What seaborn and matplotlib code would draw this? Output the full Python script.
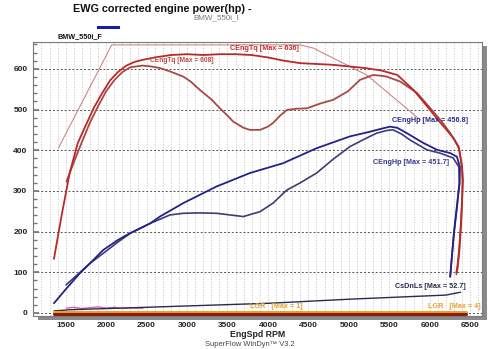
import numpy as np
import pandas as pd
import seaborn as sns
import matplotlib
matplotlib.use("Agg")
import matplotlib.pyplot as plt
from matplotlib.ticker import MultipleLocator
from matplotlib.patches import Rectangle

# ---- data ----
tq_a_rpm = [1355, 1450, 1550, 1650, 1750, 1850, 1950, 2050, 2150, 2250, 2350, 2450, 2600, 2800,
            3000, 3200, 3400, 3600, 3800, 4000, 4200, 4400, 4600, 4800, 5000, 5200, 5400, 5600,
            5800, 6000, 6100, 6200, 6300, 6360, 6400, 6410, 6400, 6385, 6365, 6345, 6330]
tq_a_val = [133, 240, 345, 418, 462, 505, 540, 572, 593, 608, 617, 622, 628, 634,
            636, 634, 636, 636, 634, 628, 620, 614, 612, 610, 606, 602, 596, 585,
            548, 500, 475, 452, 428, 405, 360, 327, 280, 220, 160, 120, 100]

tq_b_rpm = [1510, 1600, 1700, 1800, 1900, 2000, 2100, 2200, 2300, 2450, 2550, 2665, 2800, 2953,
            3050, 3160, 3300, 3407, 3500, 3572, 3700, 3778, 3902, 4000, 4063, 4150, 4235, 4350,
            4483, 4650, 4808, 4990, 5138, 5300, 5400, 5468, 5632, 5842, 6043, 6150, 6253, 6360,
            6398, 6405, 6400, 6385, 6365, 6345, 6330]
tq_b_val = [323, 370, 420, 468, 508, 545, 572, 592, 604, 608, 606, 602, 593, 581,
            568, 548, 525, 503, 485, 470, 455, 450, 450, 458, 467, 485, 499, 502,
            503, 515, 524, 545, 573, 585, 583, 581, 569, 541, 495, 470, 442, 408,
            359, 320, 270, 210, 150, 110, 95]

hp_a_rpm = [1355, 1500, 1677, 1800, 1965, 2150, 2295, 2542, 2665, 2953, 3366, 3778, 4186, 4602,
            5014, 5250, 5425, 5510, 5600, 5717, 5920, 6090, 6253, 6336, 6373, 6370, 6340, 6300,
            6270, 6253]
hp_a_val = [24, 58, 98, 122, 155, 180, 196, 220, 237, 270, 311, 344, 368, 405,
            434, 445, 454, 458, 455, 442, 418, 401, 393, 384, 359, 320, 270, 200,
            130, 89]

hp_b_rpm = [1504, 1650, 1800, 2000, 2150, 2300, 2542, 2789, 2953, 3150, 3366, 3531, 3696, 3902,
            4063, 4232, 4400, 4602, 4800, 5014, 5200, 5344, 5480, 5548, 5650, 5758, 5965, 6126,
            6290, 6360, 6365, 6340, 6300, 6270, 6253]
hp_b_val = [69, 95, 122, 152, 175, 196, 220, 241, 245, 246, 245, 241, 237, 249,
            270, 302, 320, 344, 377, 409, 428, 442, 449, 450, 440, 425, 401, 393,
            381, 359, 320, 265, 195, 130, 89]

ref_rpm = [1409, 2069, 4397, 4560, 5221, 5880]
ref_val = [405, 659, 659, 651, 585, 475]

cs_rpm = [1355, 1553, 2500, 4027, 5016, 6200, 6380]
cs_val = [5, 8, 14, 24, 34, 44, 51]

pk_rpm = [1510, 1600, 1700, 1800, 1900, 2000, 2100, 2200, 2300, 2400, 2455]
pk_val = [12, 14, 11, 13, 15, 12, 14, 11, 13, 12, 12]

lgr_rpm = [1355, 6450]
lgr_val = [2, 2]
base_rpm = [1355, 6450]
base_val = [-2, -2]

x_ticks = [1500, 2000, 2500, 3000, 3500, 4000, 4500, 5000, 5500, 6000, 6500]
y_ticks = [0, 100, 200, 300, 400, 500, 600]

# ---- figure ----
sns.set_theme(style="white")
plt.rcParams['font.family'] = ['Liberation Sans', 'DejaVu Sans']

W, H = 500, 349
fig = plt.figure(figsize=(W / 100, H / 100), dpi=100)
fig.patch.set_facecolor("white")

L, R, T, B = 33, 482, 42, 316
# drop shadow
fig.patches.append(Rectangle(((L + 5) / W, 1 - (B + 4) / H), (R - L) / W, (B - T) / H,
                             transform=fig.transFigure, facecolor="#8a8a8a",
                             edgecolor="none", zorder=0))
ax = fig.add_axes([L / W, 1 - B / H, (R - L) / W, (B - T) / H])
ax.set_facecolor("white")
ax.set_zorder(1)

ax.set_xlim(1096, 6646)
ax.set_ylim(-7.4, 666)

# grid
ax.xaxis.set_minor_locator(MultipleLocator(100))
ax.yaxis.set_minor_locator(MultipleLocator(20))
ax.set_xticks(x_ticks)
ax.set_yticks(y_ticks)
ax.grid(which="minor", axis="x", linestyle=(0, (1.2, 2.2)), color="#b0b0b0", linewidth=0.55)
ax.grid(which="major", axis="x", linestyle=(0, (1.2, 2.2)), color="#b0b0b0", linewidth=0.55)
ax.grid(which="major", axis="y", linestyle=(0, (2, 2)), color="#555555", linewidth=0.7)

# lines
sns.lineplot(x=ref_rpm, y=ref_val, sort=False, estimator=None, ax=ax, color="#c98a84", linewidth=0.8)
sns.lineplot(x=tq_b_rpm, y=tq_b_val, sort=False, estimator=None, ax=ax, color="#a84a44", linewidth=1.3)
sns.lineplot(x=tq_a_rpm, y=tq_a_val, sort=False, estimator=None, ax=ax, color="#b82a2a", linewidth=1.3)
sns.lineplot(x=hp_b_rpm, y=hp_b_val, sort=False, estimator=None, ax=ax, color="#3c3c7a", linewidth=1.2)
sns.lineplot(x=hp_a_rpm, y=hp_a_val, sort=False, estimator=None, ax=ax, color="#22228a", linewidth=1.3)
sns.lineplot(x=pk_rpm, y=pk_val, sort=False, estimator=None, ax=ax, color="#d060c0", linewidth=1.0)
sns.lineplot(x=cs_rpm, y=cs_val, sort=False, estimator=None, ax=ax, color="#2a2a50", linewidth=1.0)
sns.lineplot(x=lgr_rpm, y=lgr_val, sort=False, estimator=None, ax=ax, color="#f0a020", linewidth=2.2)
sns.lineplot(x=base_rpm, y=base_val, sort=False, estimator=None, ax=ax, color="#8a1a10", linewidth=2.2)

# curve labels
ax.text(3531, 649, "CEngTq [Max = 636]", color="#c0302a", fontsize=5.2, fontweight="bold", va="center")
ax.text(2542, 620, "CEngTq [Max = 608]", color="#c04a44", fontsize=4.8, fontweight="bold", va="center")
ax.text(5533, 472, "CEngHp [Max = 456.8]", color="#2a2a90", fontsize=5.2, fontweight="bold", va="center")
ax.text(5298, 369, "CEngHp [Max = 451.7]", color="#3a3a90", fontsize=5.2, fontweight="bold", va="center")
ax.text(5570, 64, "CsDnLs [Max = 52.7]", color="#2a2a50", fontsize=5.2, fontweight="bold", va="center")
ax.text(3779, 15, "LGR   [Max = 1]", color="#e8a030", fontsize=5.2, fontweight="bold", va="center")
ax.text(5979, 15, "LGR   [Max = 4]", color="#e8a030", fontsize=5.2, fontweight="bold", va="center")

# axes styling
for s in ax.spines.values():
    s.set_color("#7a7a7a")
    s.set_linewidth(0.8)
ax.tick_params(axis="x", which="major", labelsize=6, length=0, pad=4)
ax.tick_params(axis="y", which="major", labelsize=6, left=True, length=4, direction="in",
               color="#777777", pad=4)
ax.tick_params(axis="y", which="minor", direction="in", length=3, color="#777777", left=True)
for lab in ax.get_xticklabels() + ax.get_yticklabels():
    lab.set_fontweight("bold")
    lab.set_color("#222222")
ax.set_xlabel("EngSpd RPM", fontsize=6.3, fontweight="bold", labelpad=1, color="#222222")
ax.set_ylabel("")

# header texts
fig.text(73 / W, 1 - 9 / H, "EWG corrected engine power(hp) -", fontsize=7.8, fontweight="bold",
         va="center", ha="left", color="#111111")
fig.text(216 / W, 1 - 18 / H, "BMW_550i_I", fontsize=5.8, va="center", ha="center", color="#777777")
fig.patches.append(Rectangle((97 / W, 1 - 29 / H), 23 / W, 3.5 / H, transform=fig.transFigure,
                             facecolor="#1a1ab0", edgecolor="none"))
fig.text(57 / W, 1 - 37 / H, "BMW_550i_F", fontsize=5.2, fontweight="bold", va="center",
         ha="left", color="#111111")
fig.text(250 / W, 1 - 344 / H, "SuperFlow WinDyn\u2122 V3.2", fontsize=5.4, va="center",
         ha="center", color="#444444")

fig.savefig("out.png", dpi=100, facecolor="white")
